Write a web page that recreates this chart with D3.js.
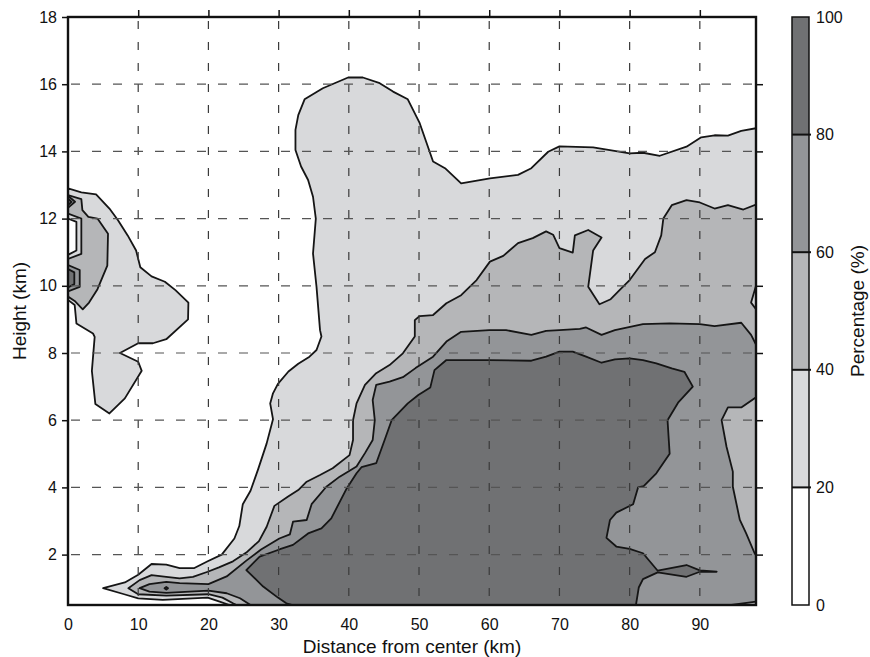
<!DOCTYPE html>
<html><head><meta charset="utf-8">
<script src="https://cdn.jsdelivr.net/npm/d3@7"></script>
<style>
body{margin:0;background:#fff;}
text{font-family:"Liberation Sans",Arial,Helvetica,sans-serif;fill:#111;}
</style>
</head><body>
<svg id="chart" width="870" height="657"></svg>
<script>
// ---------- data ----------
const xTicks = [0,10,20,30,40,50,60,70,80,90];
const yTicks = [2,4,6,8,10,12,14,16,18];
const cbTicks = [0,20,40,60,80,100];
const levels = [0,20,40,60,80,100];

// contour regions: [distance (km), height (km)]
const ge20Main = [[5.0,1.0],[8.1,1.17],[10.0,1.4],[11.9,1.72],[14.0,1.7],[15.9,1.6],[18.0,1.6],[19.9,1.8],[21.9,2.0],[23.7,2.48],[24.4,2.85],[24.9,3.5],[26.0,3.9],[27.1,4.55],[28.3,5.31],[29.2,6.03],[28.8,6.5],[29.2,6.8],[29.9,7.08],[31.4,7.45],[32.8,7.68],[34.4,7.89],[35.4,8.09],[36.1,8.49],[35.9,8.68],[35.4,9.97],[34.9,10.96],[35.3,12.0],[34.9,12.65],[34.2,13.15],[33.2,13.55],[32.4,14.04],[32.4,14.64],[32.8,15.08],[33.7,15.55],[36.3,15.88],[39.9,16.2],[42.0,16.2],[44.4,16.03],[46.3,15.78],[48.4,15.55],[50.1,14.84],[52.0,13.7],[53.7,13.5],[56.0,13.05],[60.1,13.2],[64.1,13.3],[66.0,13.5],[68.4,13.99],[70.0,14.15],[74.8,14.12],[80.0,13.94],[81.9,13.96],[84.3,13.87],[88.1,14.14],[90.2,14.42],[92.1,14.48],[94.0,14.47],[95.9,14.61],[98,14.69],[98,0.5],[23.0,0.5],[21.6,0.6],[19.9,0.72],[13.5,0.65],[10.0,0.7],[8.0,0.82]];
const ge40Main = [[8.6,1.0],[10.2,1.24],[11.9,1.39],[14.0,1.34],[15.9,1.29],[17.8,1.34],[19.9,1.49],[21.5,1.62],[23.5,1.8],[25.4,2.06],[27.2,2.4],[28.3,2.83],[29.4,3.45],[31.3,3.72],[32.8,3.92],[34.0,4.17],[35.9,4.37],[37.7,4.57],[40.1,4.96],[40.6,5.41],[40.6,6.0],[41.1,6.5],[42.3,7.05],[43.9,7.4],[45.8,7.64],[47.7,7.99],[49.4,8.49],[49.4,8.98],[50.1,9.1],[52.0,9.13],[53.9,9.48],[56.0,9.72],[58.2,10.17],[60.1,10.72],[62.0,10.89],[64.1,11.27],[66.2,11.42],[68.1,11.62],[69.1,11.52],[70.0,11.12],[71.9,10.99],[72.2,11.5],[74.1,11.66],[76.0,11.44],[74.8,11.05],[74.1,9.97],[75.7,9.45],[77.3,9.6],[78.6,9.88],[80.0,10.17],[82.2,10.8],[83.6,11.0],[84.5,11.5],[84.8,12.0],[86.0,12.4],[88.1,12.55],[90.0,12.48],[92.1,12.3],[94.0,12.4],[96.2,12.27],[98,12.42],[98,10.0],[97.3,9.5],[98,9.3],[98,0.5],[24.0,0.5],[23.5,0.55],[22.0,0.72],[20.0,0.82],[14.0,0.78],[10.0,0.82]];
const ge60Main = [[10.2,1.0],[11.6,1.12],[14.0,1.19],[15.9,1.15],[20.0,1.12],[22.6,1.35],[25.4,1.82],[27.5,2.15],[30.1,2.48],[31.6,2.6],[32.05,2.98],[34.0,3.03],[34.7,3.5],[36.8,4.02],[38.7,4.32],[41.1,4.62],[42.3,5.02],[43.4,5.41],[43.7,6.0],[43.4,6.6],[43.9,7.05],[45.8,7.15],[47.7,7.28],[49.5,7.55],[52.0,7.89],[53.9,8.34],[56.0,8.63],[60.0,8.68],[62.4,8.68],[66.0,8.54],[68.1,8.66],[70.0,8.68],[72.9,8.72],[73.8,8.76],[76.0,8.54],[77.9,8.68],[81.9,8.86],[85.7,8.88],[90.0,8.86],[92.1,8.8],[95.9,8.9],[97.3,8.54],[98,8.25],[98,0.5],[26.0,0.5],[24.5,0.7],[22.6,0.85],[20.0,0.93],[14.0,0.86],[11.6,0.9]];
const hole40Right = [[98,6.68],[95.9,6.38],[94.0,6.38],[93.1,6.0],[93.8,5.21],[94.7,4.47],[94.7,4.02],[95.7,3.03],[96.6,2.63],[97.8,2.04],[98,1.98]];
const hole40Corner = [[94.5,0.5],[98,0.6],[98,0.5]];
const ge80Main = [[25.4,1.54],[27.3,1.94],[30.2,2.16],[32.05,2.29],[34.2,2.63],[36.1,2.78],[37.5,3.08],[39.7,3.97],[41.1,4.42],[41.8,4.6],[43.9,4.72],[45.1,5.41],[46.1,6.0],[48.4,6.5],[49.9,6.75],[51.6,6.97],[52.2,7.49],[53.9,7.79],[60.0,7.79],[66.0,7.77],[68.1,7.89],[70.0,8.04],[71.9,8.04],[73.8,7.89],[76.0,7.71],[77.9,7.81],[80.0,7.84],[81.9,7.79],[83.8,7.69],[86.0,7.54],[87.8,7.44],[89.0,7.0],[86.9,6.52],[85.4,6.0],[85.7,5.0],[83.8,4.42],[82.0,4.04],[81.2,4.0],[80.5,3.5],[78.1,3.25],[77.2,3.03],[76.7,2.5],[78.1,2.24],[80.0,2.17],[81.9,2.04],[84.0,1.52],[88.1,1.69],[90.0,1.53],[92.4,1.49],[90.0,1.49],[88.1,1.34],[84.0,1.47],[81.9,1.27],[81.3,1.02],[80.9,0.5],[32.0,0.5],[31.1,0.55],[29.9,0.72],[27.8,1.05]];
const ge80Dot = [[13.75,1.0],[14.0,1.04],[14.25,1.0],[14.0,0.96]];

const ge20Left = [[0,12.9],[1.9,12.78],[4.0,12.72],[5.9,12.3],[7.1,11.96],[8.5,11.5],[9.7,11.05],[10.3,10.55],[11.9,10.28],[13.8,10.12],[15.3,9.87],[17.15,9.5],[17.1,9.0],[14.0,8.41],[12.1,8.29],[10.0,8.29],[7.4,8.0],[10.0,7.74],[10.5,7.47],[8.1,6.65],[5.9,6.2],[3.9,6.48],[3.4,7.47],[3.8,8.48],[3.56,8.58],[1.2,8.88],[0.95,9.43],[0,9.58]];
const ge40Left = [[0,12.7],[1.9,12.58],[2.05,12.25],[2.9,12.05],[4.2,12.0],[5.7,11.55],[5.6,10.6],[4.2,9.9],[3.0,9.5],[2.1,9.3],[0.95,9.55],[0,9.68]];
const hole20Left = [[0,12.15],[1.9,12.0],[1.9,10.95],[0,10.8]];
const hole0Left = [[0,12.0],[1.2,11.9],[1.2,11.05],[0,10.92]];
const ge60LeftTop = [[0,12.68],[1.0,12.5],[0,12.32]];
const ge80LeftTop = [[0,12.6],[0.5,12.5],[0,12.4]];
const ge60LeftLow = [[0,10.62],[1.67,10.47],[1.67,9.97],[0,9.83]];
const ge80LeftLow = [[0,10.5],[0.9,10.4],[0.9,10.05],[0,9.95]];

// ---------- style ----------
const fillFor = {0:"#ffffff",20:"#d8d9db",40:"#b5b6b8",60:"#939598",80:"#707173"};
const layers = [
  [ge20Main,20],[ge40Main,40],[ge60Main,60],[hole40Right,40],[hole40Corner,40],[ge80Main,80],[ge80Dot,80],
  [ge20Left,20],[ge40Left,40],[hole20Left,20],[hole0Left,0],[ge60LeftTop,60],[ge80LeftTop,80],[ge60LeftLow,60],[ge80LeftLow,80]
];

const L=68, R=756, T=17, B=605;
const svg = d3.select("#chart");
const x = d3.scaleLinear().domain([0,98]).range([L,R]);
const y = d3.scaleLinear().domain([0.5,18]).range([B,T]);

svg.append("defs").append("clipPath").attr("id","clip")
  .append("rect").attr("x",L).attr("y",T).attr("width",R-L).attr("height",B-T);

const plot = svg.append("g").attr("clip-path","url(#clip)");
const line = d3.line().x(d=>x(d[0])).y(d=>y(d[1]));
plot.selectAll("path.c").data(layers).join("path")
  .attr("class","c")
  .attr("d",d=>line(d[0])+"Z")
  .attr("fill",d=>fillFor[d[1]])
  .attr("stroke","#151515").attr("stroke-width",1.8).attr("stroke-linejoin","round");

// grid
const grid = svg.append("g").attr("clip-path","url(#clip)");
grid.selectAll("line.v").data(xTicks.filter(v=>v>0)).join("line")
  .attr("x1",d=>x(d)).attr("x2",d=>x(d)).attr("y1",T).attr("y2",B)
  .attr("stroke","#3a3a3a").attr("stroke-width",1.2).attr("stroke-dasharray","8,13").attr("stroke-dashoffset",-4);
grid.selectAll("line.h").data(yTicks.filter(v=>v<18)).join("line")
  .attr("x1",L).attr("x2",R).attr("y1",d=>y(d)).attr("y2",d=>y(d))
  .attr("stroke","#555").attr("stroke-width",1.2).attr("stroke-dasharray","9,12").attr("stroke-dashoffset",-3);

// axes
const ax = (g)=>{g.select(".domain").remove(); g.selectAll("text").attr("font-size",16).style("font-family","Liberation Sans, Arial, sans-serif"); g.selectAll("line").attr("stroke","#111").attr("stroke-width",1.5);};
svg.append("g").attr("transform",`translate(${L},0)`)
  .call(d3.axisLeft(y).tickValues(yTicks).tickSize(6).tickPadding(5)).call(ax);
svg.append("g").attr("transform",`translate(0,${B})`)
  .call(d3.axisBottom(x).tickValues(xTicks).tickSize(0).tickPadding(14)).call(ax);
svg.append("g").attr("transform",`translate(0,${T})`)
  .call(d3.axisTop(x).tickValues(xTicks.filter(v=>v>0)).tickSize(7).tickFormat("")).call(ax);
svg.append("g").attr("transform",`translate(${R},0)`)
  .call(d3.axisRight(y).tickValues(yTicks.filter(v=>v<18)).tickSize(7).tickFormat("")).call(ax);

svg.append("rect").attr("x",L).attr("y",T).attr("width",R-L).attr("height",B-T)
  .attr("fill","none").attr("stroke","#111").attr("stroke-width",2.4);

// colorbar
const cy = d3.scaleLinear().domain([0,100]).range([B,T]);
const cbX = 792, cbW = 17;
const cb = svg.append("g");
cb.selectAll("rect.s").data(d3.pairs(levels)).join("rect")
  .attr("x",cbX).attr("width",cbW)
  .attr("y",d=>cy(d[1])).attr("height",d=>cy(d[0])-cy(d[1]))
  .attr("fill",d=>fillFor[d[0]]);
cb.selectAll("line.s").data(levels.slice(1,-1)).join("line")
  .attr("x1",cbX).attr("x2",cbX+cbW+2).attr("y1",d=>cy(d)).attr("y2",d=>cy(d))
  .attr("stroke","#111").attr("stroke-width",2);
cb.append("rect").attr("x",cbX).attr("y",T).attr("width",cbW).attr("height",B-T)
  .attr("fill","none").attr("stroke","#111").attr("stroke-width",1.5);
svg.append("g").attr("transform",`translate(${cbX+cbW},0)`)
  .call(d3.axisRight(cy).tickValues(cbTicks).tickSize(0).tickPadding(7)).call(ax);

// titles
svg.append("text").attr("x",(L+R)/2).attr("y",653).attr("text-anchor","middle")
  .attr("font-size",19).text("Distance from center (km)");
svg.append("text").attr("transform",`translate(26,${(T+B)/2}) rotate(-90)`).attr("text-anchor","middle")
  .attr("font-size",19).text("Height (km)");
svg.append("text").attr("transform",`translate(864,${(T+B)/2}) rotate(-90)`).attr("text-anchor","middle")
  .attr("font-size",19).text("Percentage (%)");
</script>
</body></html>
